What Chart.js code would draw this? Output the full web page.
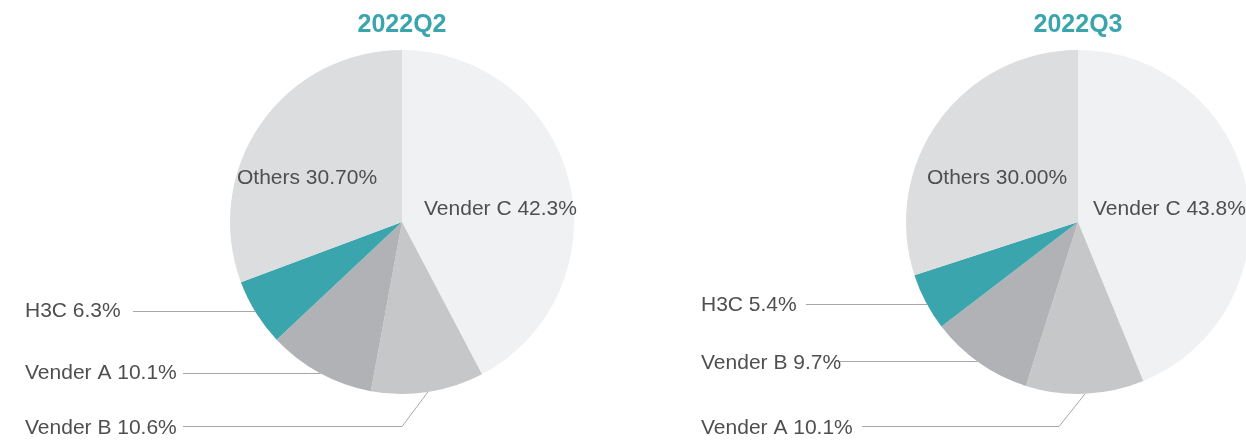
<!DOCTYPE html>
<html>
<head>
<meta charset="utf-8">
<script src="https://cdn.jsdelivr.net/npm/chart.js@4/dist/chart.umd.min.js"></script>
<style>
  html, body { margin: 0; padding: 0; background: #fff; }
  #wrap { position: relative; width: 1246px; height: 448px; overflow: hidden; }
  .pie { position: absolute; top: 0; height: 448px; }
  #pieQ2 { left: 0; width: 623px; }
  #pieQ3 { left: 623px; width: 680px; }
</style>
</head>
<body>
<div id="wrap">
  <div class="pie" id="pieQ2"><canvas id="c1"></canvas></div>
  <div class="pie" id="pieQ3"><canvas id="c2"></canvas></div>
</div>
<script>
'use strict';

/* ── data ── */
const q2Title   = '2022Q2';
const q2Names   = ['Vender C', 'Vender B', 'Vender A', 'H3C', 'Others'];
const q2Values  = [42.3, 10.6, 10.1, 6.3, 30.7];
const q2PctText = ['42.3%', '10.6%', '10.1%', '6.3%', '30.70%'];

const q3Title   = '2022Q3';
const q3Names   = ['Vender C', 'Vender A', 'Vender B', 'H3C', 'Others'];
const q3Values  = [43.8, 11.1, 9.7, 5.4, 30.0];
const q3PctText = ['43.8%', '10.1%', '9.7%', '5.4%', '30.00%'];

const sliceColors = ['#f0f1f3', '#c6c7c9', '#b1b2b5', '#3ba5ae', '#dcdddf'];
const TEXT  = '#4f4f4f';
const TEAL  = '#3ba5ae';
const LINE  = '#a8a8a8';
const FONT  = '"Liberation Sans", Arial, sans-serif';

/* ── labels + leader lines ── */
const pieLabels = {
  id: 'pieLabels',
  afterDatasetsDraw(chart, args, opts) {
    const ctx  = chart.ctx;
    const arcs = chart.getDatasetMeta(0).data;
    const cx = arcs[0].x, cy = arcs[0].y, r = arcs[0].outerRadius;
    const names = chart.data.labels;
    const txt   = opts.pctText;

    ctx.save();
    // title
    ctx.fillStyle = TEAL;
    ctx.font = 'bold 25px ' + FONT;
    ctx.textAlign = 'center';
    ctx.textBaseline = 'middle';
    ctx.fillText(opts.title, cx, 25);

    ctx.font = '21px ' + FONT;
    ctx.fillStyle = TEXT;
    ctx.textAlign = 'left';

    // labels inside the pie
    opts.inside.forEach(l => {
      ctx.fillText(names[l.i] + ' ' + txt[l.i], cx + l.dx, cy + l.dy);
    });

    // labels outside with leader lines
    ctx.strokeStyle = LINE;
    ctx.lineWidth = 1;
    opts.outside.forEach(l => {
      ctx.fillStyle = TEXT;
      ctx.fillText(names[l.i] + ' ' + txt[l.i], cx - 377, l.y);
      const ly = Math.round(l.lineY) + 0.5;
      ctx.beginPath();
      ctx.moveTo(cx + l.x0, ly);
      if (l.elbow !== undefined) {
        const a = arcs[l.i];
        const mid = (a.startAngle + a.endAngle) / 2;
        ctx.lineTo(cx + l.elbow, ly);
        ctx.lineTo(cx + r * Math.cos(mid), cy + r * Math.sin(mid));
      } else {
        const dy = ly - cy;
        ctx.lineTo(cx - Math.sqrt(r * r - dy * dy), ly);
      }
      ctx.stroke();
    });
    ctx.restore();
  }
};

function makePie(canvasId, names, values, padding, labelOpts) {
  return new Chart(document.getElementById(canvasId), {
    type: 'pie',
    data: {
      labels: names,
      datasets: [{
        data: values,
        backgroundColor: sliceColors,
        borderWidth: 0,
        hoverOffset: 0
      }]
    },
    options: {
      responsive: true,
      maintainAspectRatio: false,
      animation: false,
      layout: { padding: padding },
      plugins: {
        legend: { display: false },
        tooltip: { enabled: false },
        pieLabels: labelOpts
      }
    },
    plugins: [pieLabels]
  });
}

makePie('c1', q2Names, q2Values,
  { left: 230, right: 49, top: 50, bottom: 54 },
  {
    title: q2Title,
    pctText: q2PctText,
    inside: [
      { i: 4, dx: -165, dy: -44 },
      { i: 0, dx: 22,   dy: -13 }
    ],
    outside: [
      { i: 3, y: 311, lineY: 311, x0: -269 },
      { i: 2, y: 373, lineY: 373, x0: -219 },
      { i: 1, y: 428, lineY: 426, x0: -219, elbow: 0 }
    ]
  });

makePie('c2', q3Names, q3Values,
  { left: 283, right: 53, top: 50, bottom: 54 },
  {
    title: q3Title,
    pctText: q3PctText,
    inside: [
      { i: 4, dx: -151, dy: -44 },
      { i: 0, dx: 15,   dy: -13 }
    ],
    outside: [
      { i: 3, y: 305, lineY: 304, x0: -272 },
      { i: 2, y: 363, lineY: 361, x0: -238 },
      { i: 1, y: 428, lineY: 426, x0: -216, elbow: -19 }
    ]
  });
</script>
</body>
</html>
